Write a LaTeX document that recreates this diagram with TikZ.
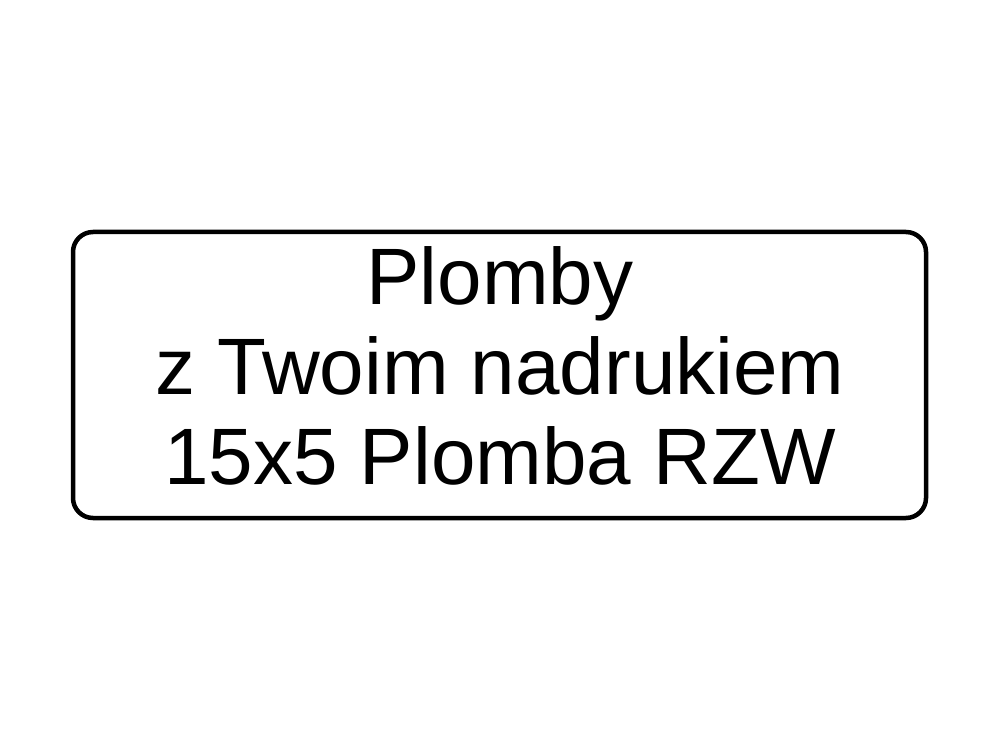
\documentclass[tikz,border=0pt]{standalone}
\usepackage{fontspec}
\setmainfont{Liberation Sans}
\usepackage{tikz}

\begin{document}
\begin{tikzpicture}[x=1pt,y=1pt]
\newcommand{\framewidth}{4.5pt}
\useasboundingbox (0,0) rectangle (1000,750);
\draw[line width=\framewidth, rounded corners=20pt] (73,518) rectangle (926,232);
\node[align=center, font=\fontsize{80}{90}\selectfont, inner sep=0pt] (label) at (500,384)
  {Plomby\\z Twoim nadrukiem\\15x5 Plomba RZW};
\end{tikzpicture}
\end{document}
